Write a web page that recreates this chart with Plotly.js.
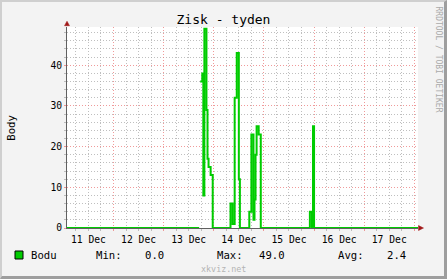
<!DOCTYPE html>
<html>
<head>
<meta charset="utf-8">
<script src="https://cdn.plot.ly/plotly-3.0.1.min.js"></script>
<style>
  html, body { margin: 0; padding: 0; background: #F3F3F3; }
  #wrap { position: relative; width: 447px; height: 279px; }
  #chart { position: absolute; left: 0; top: 0; width: 447px; height: 279px; }
  #frame { position: absolute; left: 0; top: 0; width: 447px; height: 279px; box-sizing: border-box;
           border-top: 2px solid #CFCFCF; border-left: 2px solid #CFCFCF;
           border-right: 3px solid #9E9E9E; border-bottom: 3px solid #9E9E9E; pointer-events: none; }
</style>
</head>
<body>
<div id="wrap"><div id="chart"></div><div id="frame"></div></div>
<script>
// ---- data ----
const times = [
  '2012-12-11 00:00', '2012-12-13 17:00', '2012-12-13 17:15',
  '2012-12-13 17:30', '2012-12-13 18:00', '2012-12-13 18:30', '2012-12-13 19:00',
  '2012-12-13 19:30', '2012-12-13 20:00', '2012-12-13 20:30', '2012-12-13 21:00',
  '2012-12-13 21:30', '2012-12-13 22:00', '2012-12-13 22:30', '2012-12-13 23:00',
  '2012-12-13 23:30',
  '2012-12-14 08:00', '2012-12-14 08:30', '2012-12-14 09:00', '2012-12-14 09:30',
  '2012-12-14 10:00', '2012-12-14 10:30', '2012-12-14 11:00', '2012-12-14 11:30',
  '2012-12-14 12:00', '2012-12-14 12:30',
  '2012-12-14 17:00', '2012-12-14 17:30', '2012-12-14 18:00', '2012-12-14 18:30',
  '2012-12-14 19:00', '2012-12-14 19:30', '2012-12-14 20:00', '2012-12-14 20:30',
  '2012-12-14 21:00', '2012-12-14 21:30', '2012-12-14 22:00', '2012-12-14 22:30',
  '2012-12-15 22:00', '2012-12-15 22:30', '2012-12-15 23:00', '2012-12-15 23:30',
  '2012-12-16 00:00', '2012-12-18 04:00'
];
const bodu = [
  0, 0, null,
  36, 36, 38, 8,
  49, 49, 29, 17,
  15, 15, 13, 13,
  0,
  6, 6, 1, 1,
  32, 32, 43, 43,
  12, 0,
  4, 4, 23, 23,
  2, 7, 18, 25,
  25, 23, 23, 0,
  4, 4, 0, 25,
  0, 0
];
const seriesName = 'Bodu';
const statLabels = ['Min:', 'Max:', 'Avg:'];
const statValues = ['0.0', '49.0', '2.4'];
const xRange = ['2012-12-11 01:45', '2012-12-18 01:45'];
const yRange = [0, 49.4];

// ---- layout geometry ----
const W = 447, H = 279, L = 67, R = 29, T = 27, B = 51;
const pw = W - L - R, ph = H - T - B;
const px = x => (x - L) / pw;
const py = y => (H - B - y) / ph;
const mono = 'DejaVu Sans Mono, monospace';
const green = '#00CC00';
const arrowCol = '#A01818';

const trace = {
  type: 'scatter', mode: 'lines', x: times, y: bodu, connectgaps: false,
  line: { shape: 'hv', color: green, width: 2 }, hoverinfo: 'skip', showlegend: false
};

function ann(text, x, y, opts) {
  return Object.assign({ text: text, xref: 'paper', yref: 'paper', x: px(x), y: py(y),
    showarrow: false, borderpad: 0, xanchor: 'left', yanchor: 'middle',
    font: { family: mono, size: 10.6, color: '#000' } }, opts || {});
}

const annotations = [
  ann('Body', 10.7, 128, { xanchor: 'center', textangle: -90 }),
  ann('RRDTOOL / TOBI OETIKER', 438.5, 59, { xanchor: 'center', textangle: 90,
      font: { family: mono, size: 8, color: '#AAAAAA' } }),
  ann('xkviz.net', 223, 268.5, { xanchor: 'center', font: { family: mono, size: 8.4, color: '#B4B4B4' } }),
  ann(seriesName, 30, 254.7),
  ann(statLabels[0], 95, 254.7), ann(statValues[0], 164.5, 254.7, { xanchor: 'right' }),
  ann(statLabels[1], 215.7, 254.7), ann(statValues[1], 285.5, 254.7, { xanchor: 'right' }),
  ann(statLabels[2], 336.7, 254.7), ann(statValues[2], 406.5, 254.7, { xanchor: 'right' })
];

const shapes = [
  { type: 'rect', xref: 'paper', yref: 'paper', x0: px(15), x1: px(23), y0: py(259), y1: py(251),
    fillcolor: green, line: { color: '#000', width: 1 } },
  { type: 'path', xref: 'paper', yref: 'paper',
    path: `M ${px(64.5)},${py(25.7)} L ${px(69.5)},${py(25.7)} L ${px(67)},${py(21.2)} Z`,
    fillcolor: arrowCol, line: { color: arrowCol, width: 0.5 } },
  { type: 'path', xref: 'paper', yref: 'paper',
    path: `M ${px(418.5)},${py(225.5)} L ${px(418.5)},${py(230.5)} L ${px(423.5)},${py(228)} Z`,
    fillcolor: arrowCol, line: { color: arrowCol, width: 0.5 } }
];

const gridMajor = 'rgba(235,120,120,0.75)';
const gridMinor = 'rgba(170,170,170,0.75)';

const layout = {
  width: W, height: H,
  margin: { l: L, r: R, t: T, b: B, pad: 0 },
  paper_bgcolor: 'rgba(0,0,0,0)', plot_bgcolor: '#FFFFFF',
  font: { family: mono, size: 9.7, color: '#000' },
  title: { text: 'Zisk - tyden', xref: 'container', yref: 'container', x: 0.5, xanchor: 'center',
           y: 1 - 19.5 / H, yanchor: 'middle', font: { family: mono, size: 13, color: '#000' } },
  showlegend: false,
  xaxis: {
    type: 'date', range: xRange, tick0: '2012-12-11', dtick: 86400000,
    tickformat: '%d %b', ticklabelmode: 'period',
    showgrid: true, gridcolor: gridMajor, griddash: '1px,2px', gridwidth: 1,
    ticks: 'outside', ticklen: 2, tickcolor: gridMajor,
    tickfont: { family: mono, size: 9.7, color: '#000' },
    minor: { dtick: 21600000, showgrid: true, gridcolor: gridMinor, griddash: '1px,2px',
             ticks: 'outside', ticklen: 2, tickcolor: gridMinor },
    showline: true, linecolor: '#606060', linewidth: 1, zeroline: false, fixedrange: true
  },
  yaxis: {
    range: yRange, dtick: 10, tick0: 0,
    showgrid: true, gridcolor: gridMajor, griddash: '1px,2px', gridwidth: 1,
    ticks: 'outside', ticklen: 2, tickcolor: gridMajor,
    tickfont: { family: mono, size: 9.7, color: '#000' },
    minor: { dtick: 2, showgrid: true, gridcolor: gridMinor, griddash: '1px,2px',
             ticks: 'outside', ticklen: 2, tickcolor: gridMinor },
    showline: true, linecolor: '#606060', linewidth: 1, zeroline: false, fixedrange: true
  },
  annotations: annotations,
  shapes: shapes
};

Plotly.newPlot('chart', [trace], layout, { displayModeBar: false, staticPlot: true });
</script>
</body>
</html>
